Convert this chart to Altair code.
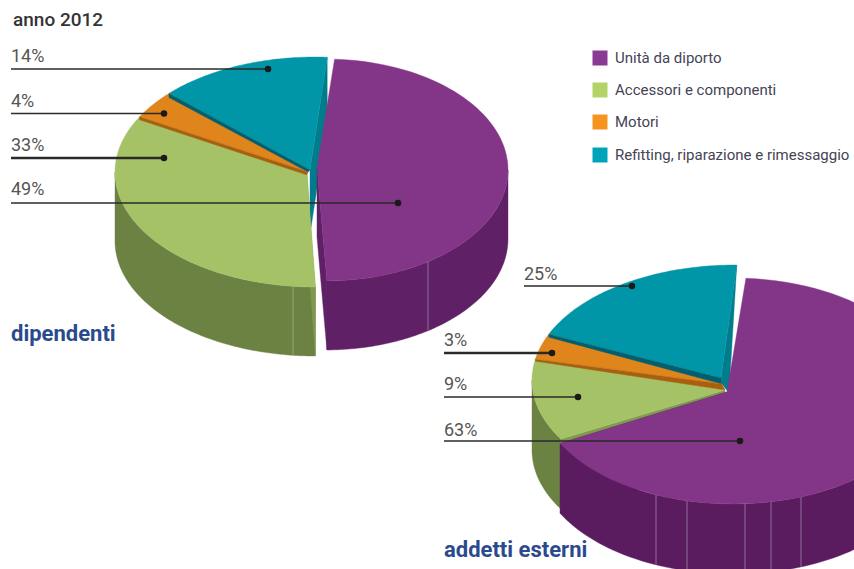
import math
import altair as alt
import pandas as pd

W, H = 854, 569

# Slice order runs counter-clockwise from the gap at the top of each pie.
categories = ["Refitting, riparazione e rimessaggio", "Motori", "Accessori e componenti", "Unità da diporto"]
shares_dipendenti = [14, 4, 33, 49]
shares_esterni = [25, 3, 9, 63]

legend_order = ["Unità da diporto", "Accessori e componenti", "Motori", "Refitting, riparazione e rimessaggio"]
legend_colors = ["#8b3a93", "#b3d369", "#f7941e", "#00a4b8"]
legend_y = [58, 90, 122, 155]

TOP = ["#0096a8", "#e0851b", "#a5c267", "#833587"]
SIDE_GREEN = "#6b8243"
WALL_GREEN = "#7f9a4f"
WALL_TEAL = "#007c8c"
STRIP_TEAL = "#006070"
STRIP_ORANGE = "#a8600f"

PIES = [
    dict(shares=shares_dipendenti,
         rest=dict(cx=315, cy=172, a=200, b=115, shift=3.5),
         main=dict(cx=325, cy=170, a=183, b=111, shift=3),
         k1=0, k2=0, depth=69, teal_wall=64, wall_tip=None,
         apex=[(310, 170), (308, 172), (307, 175), (317, 168)],
         strips=(4, 3), side_purple="#5f2066",
         seams_purple=[428], seams_green=[293]),
    dict(shares=shares_esterni,
         rest=dict(cx=735, cy=380, a=203, b=115, shift=0.5),
         main=dict(cx=733, cy=391, a=195, b=113, shift=3.8),
         k1=23, k2=5, depth=70, teal_wall=0, wall_tip=(729, 393),
         apex=[(721, 378), (722, 384), (725, 390), (727, 392)],
         strips=(3, 2), side_purple="#5a1c5f",
         seams_purple=[656, 687, 745, 771, 801], seams_green=[]),
]


def point(e, t):
    r = math.radians(t)
    return (e["cx"] + e["a"] * math.sin(r), e["cy"] - e["b"] * math.cos(r))


def arc(e, t0, t1, n=80):
    return [point(e, t0 + (t1 - t0) * i / n) for i in range(n + 1)]


def warp(p, theta):
    # Perspective of the tilted disc: the drawn angle drifts from the true one.
    r = math.radians(theta)
    return theta - p["k1"] * math.sin(r) - p["k2"] * math.sin(2 * r)


def feature(points, color):
    ring = [list(q) for q in points] + [list(points[0])]
    return {"type": "Feature", "properties": {"color": color},
            "geometry": {"type": "Polygon", "coordinates": [ring]}}


def extrude(points, d):
    return list(points) + [(x, y + d) for x, y in reversed(points)]


def build_pie(p):
    cum = [0]
    for s in p["shares"]:
        cum.append(cum[-1] - s * 3.6)
    rest, main = p["rest"], p["main"]
    t = [warp(p, c) + rest["shift"] for c in cum]
    tm = [warp(p, c) + main["shift"] for c in cum]
    apex = p["apex"]
    d = p["depth"]

    green_end = point(rest, t[3])
    main_start = point(main, tm[3])
    teal_corner = point(rest, t[0])
    teal_end = point(rest, t[1])
    orange_end = point(rest, t[2])

    items = []
    # Inner wall of the teal slice, seen through the gap.
    if p["wall_tip"]:
        items.append(feature([teal_corner, apex[0], apex[1], p["wall_tip"]], WALL_TEAL))
    else:
        items.append(feature(extrude([teal_corner, apex[0]], p["teal_wall"]), WALL_TEAL))
    # Outer rim and cut face of the green slice.
    items.append(feature(extrude(arc(rest, -90, t[3]), d), SIDE_GREEN))
    items.append(feature(extrude([green_end, apex[2]], d), WALL_GREEN))
    # Upper faces of the three smaller slices.
    items.append(feature([apex[0]] + arc(rest, t[0], t[1]), TOP[0]))
    items.append(feature([apex[1]] + arc(rest, t[1], t[2]), TOP[1]))
    items.append(feature([apex[2]] + arc(rest, t[2], t[3]), TOP[2]))
    # Thin cut faces between neighbouring slices, widening towards the centre.
    ex, ey = teal_end
    items.append(feature([teal_end, apex[0], apex[1], (ex, ey + p["strips"][0])], STRIP_TEAL))
    ox, oy = orange_end
    items.append(feature([orange_end, apex[1], apex[2], (ox, oy + p["strips"][1])], STRIP_ORANGE))
    # The detached purple slice: rim, cut face, upper face.
    items.append(feature(extrude(arc(main, -270, tm[3]), d), p["side_purple"]))
    items.append(feature(extrude([main_start, apex[3]], d), p["side_purple"]))
    items.append(feature([apex[3]] + arc(main, tm[3], tm[4]), TOP[3]))

    seams = []
    for x in p["seams_purple"]:
        u = (x - main["cx"]) / main["a"]
        y = main["cy"] + main["b"] * math.sqrt(1 - u * u)
        seams.append({"x": x, "y": y, "y2": y + d, "c": "#8f6c96"})
    for x in p["seams_green"]:
        u = (x - rest["cx"]) / rest["a"]
        y = rest["cy"] + rest["b"] * math.sqrt(1 - u * u)
        seams.append({"x": x, "y": y, "y2": y + d, "c": "#93a678"})
    return items, seams


features, seam_rows = [], []
for pie in PIES:
    f, s = build_pie(pie)
    features += f
    seam_rows += s

# Percentage captions with their leader lines.
callouts = pd.DataFrame({
    "label": ["14%", "4%", "33%", "49%", "25%", "3%", "9%", "63%"],
    "x": [11, 11, 11, 11, 524, 444, 444, 444],
    "tx": [11, 11, 11, 11, 524, 444, 444, 444],
    "base": [62, 107, 151, 195, 280, 346, 390, 436],
    "y": [69, 113.5, 158, 203, 286, 353, 397, 441],
    "end": [268, 164, 164, 398, 632, 552, 578, 740],
    "w": [1.5, 1.5, 2.6, 1.5, 1.5, 2.6, 1.5, 1.5],
})
headings = pd.DataFrame({
    "text": ["dipendenti", "addetti esterni"],
    "x": [11, 444],
    "y": [341, 557],
})
title_df = pd.DataFrame({"text": ["anno 2012"], "x": [13], "y": [26]})
legend_df = pd.DataFrame({"name": legend_order, "color": legend_colors, "y": legend_y, "x": [600] * 4, "tx": [615] * 4})

X = alt.Scale(domain=[0, W], range=[0, W])
Y = alt.Scale(domain=[0, H], range=[0, H])
px = alt.X("x:Q", scale=X, axis=None)
py = alt.Y("y:Q", scale=Y, axis=None)

shapes = (
    alt.Chart(alt.Data(values=features))
    .mark_geoshape(strokeWidth=0.4, clip=True)
    .encode(fill=alt.Fill("properties.color:N", scale=None),
            stroke=alt.Stroke("properties.color:N", scale=None))
    .project(type="identity", scale=1, translate=[0, 0])
)
seams = (
    alt.Chart(pd.DataFrame(seam_rows)).mark_rule(strokeWidth=1, clip=True)
    .encode(x=px, y=py, y2="y2:Q", color=alt.Color("c:N", scale=None))
)
leaders = (
    alt.Chart(callouts).mark_rule(color="#2a2a2a")
    .encode(x=px, x2="end:Q", y=py, strokeWidth=alt.StrokeWidth("w:Q", scale=None))
)
dots = (
    alt.Chart(callouts).mark_circle(color="#1a1a1a", size=42, opacity=1)
    .encode(x=alt.X("end:Q", scale=X, axis=None), y=py)
)
captions = (
    alt.Chart(callouts)
    .mark_text(font="Roboto", fontSize=18, color="#555555", align="left", baseline="alphabetic")
    .encode(x=alt.X("tx:Q", scale=X, axis=None), y=alt.Y("base:Q", scale=Y, axis=None), text="label:N")
)
heads = (
    alt.Chart(headings)
    .mark_text(font="Roboto", fontSize=22, fontWeight="bold", color="#2b4a8e", align="left", baseline="alphabetic")
    .encode(x=px, y=py, text="text:N")
)
title = (
    alt.Chart(title_df)
    .mark_text(font="Roboto", fontSize=19, fontWeight=500, color="#333333", align="left", baseline="alphabetic")
    .encode(x=px, y=py, text="text:N")
)
swatches = (
    alt.Chart(legend_df).mark_square(size=225, opacity=1)
    .encode(x=px, y=py, fill=alt.Fill("color:N", scale=None))
)
legend_text = (
    alt.Chart(legend_df)
    .mark_text(font="Roboto", fontSize=15, color="#444455", align="left", baseline="middle")
    .encode(x=alt.X("tx:Q", scale=X, axis=None), y=py, text="name:N")
)

chart = (
    alt.layer(shapes, seams, leaders, dots, captions, heads, title, swatches, legend_text)
    .properties(width=W, height=H, padding=0, background="white",
                autosize=alt.AutoSizeParams(type="none"))
    .configure_view(stroke=None)
)
chart.save("out.html", embed_options={"renderer": "svg", "actions": False})
